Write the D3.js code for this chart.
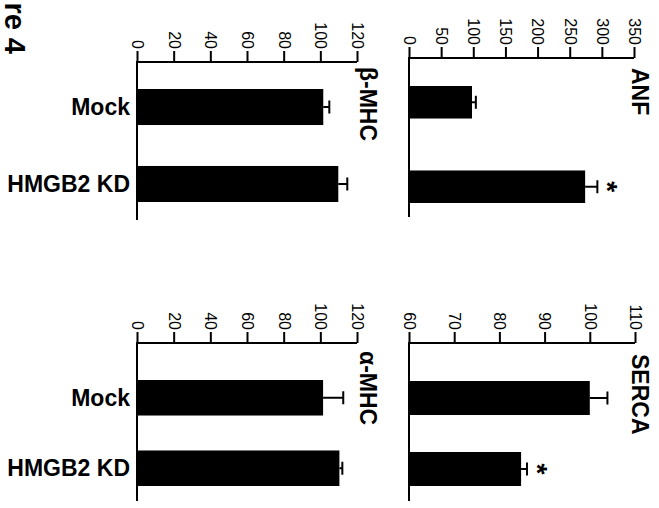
<!DOCTYPE html>
<html><head><meta charset="utf-8">
<script src="https://cdn.jsdelivr.net/npm/d3@7"></script>
<style>
html,body{margin:0;padding:0;background:#fff;}
svg{display:block;}
text{font-family:"Liberation Sans",Arial,sans-serif;fill:#000;}
</style></head>
<body>
<svg id="chart" width="659" height="508"></svg>
<script>
// ---- data ----
const categories = ["Mock", "HMGB2 KD"];
const betaMHC = [101.6, 109.8];
const betaMHCErr = [3.3, 4.9];
const alphaMHC = [101.5, 110.4];
const alphaMHCErr = [11, 1.6];
const anf = [98, 274];
const anfErr = [6, 19];
const serca = [100, 84.8];
const sercaErr = [3.9, 1.3];
const anfSig = [false, true];
const sercaSig = [false, true];
const mhcTicks = [0, 20, 40, 60, 80, 100, 120];
const anfTicks = [0, 50, 100, 150, 200, 250, 300, 350];
const sercaTicks = [60, 70, 80, 90, 100, 110];
const figLabel = "re 4";

const svg = d3.select("#chart");

// figure label (rotated)
svg.append("text")
  .attr("transform", "translate(5,54) rotate(90)")
  .attr("text-anchor", "end")
  .attr("font-size", 29).attr("font-weight", "bold")
  .text(figLabel);

function panel(opt) {
  const x = d3.scaleLinear().domain(opt.domain).range(opt.xRange);
  const y = d3.scaleBand().domain(categories).range(opt.yRange)
    .paddingInner(opt.pad).paddingOuter(0);
  const g = svg.append("g");

  // bars
  g.selectAll("rect.bar").data(categories).enter().append("rect")
    .attr("x", x(opt.domain[0]))
    .attr("y", d => y(d))
    .attr("width", (d, i) => x(opt.values[i]) - x(opt.domain[0]))
    .attr("height", y.bandwidth())
    .attr("fill", "#000");

  // error bars
  categories.forEach((c, i) => {
    const yc = y(c) + y.bandwidth() / 2;
    const x1 = x(opt.values[i]), x2 = x(opt.values[i] + opt.errs[i]);
    g.append("line").attr("x1", x1).attr("x2", x2).attr("y1", yc).attr("y2", yc)
      .attr("stroke", "#000").attr("stroke-width", 2);
    g.append("line").attr("x1", x2).attr("x2", x2).attr("y1", yc - 6.5).attr("y2", yc + 6.5)
      .attr("stroke", "#000").attr("stroke-width", 2);
    if (opt.sig && opt.sig[i]) {
      g.append("text")
        .attr("transform", `translate(${x2 + 1},${yc}) rotate(90)`)
        .attr("text-anchor", "middle")
        .attr("font-size", 28).attr("font-weight", "bold")
        .text("*");
    }
  });

  // value axis (top)
  const ax = g.append("g").attr("transform", `translate(0,${opt.axisY})`)
    .call(d3.axisTop(x).tickValues(opt.ticks).tickSize(11).tickSizeOuter(0).tickPadding(2));
  ax.select(".domain").attr("stroke-width", 2).attr("d", `M${opt.xRange[0]},0H${opt.xRange[1]}`);
  ax.selectAll(".tick line").attr("stroke-width", 2);
  ax.selectAll(".tick text")
    .attr("font-size", 16)
    .attr("font-family", "Liberation Sans, Arial, sans-serif")
    .attr("transform", "rotate(90)")
    .attr("x", -13).attr("y", 0).attr("dy", "0.35em")
    .attr("text-anchor", "end");

  // category baseline (vertical)
  g.append("line")
    .attr("x1", opt.xRange[0]).attr("x2", opt.xRange[0])
    .attr("y1", opt.axisY - 1).attr("y2", opt.baseEnd)
    .attr("stroke", "#000").attr("stroke-width", 2);

  // category labels
  if (opt.showCats) {
    g.selectAll("text.cat").data(categories).enter().append("text")
      .attr("class", "cat")
      .attr("x", opt.xRange[0] - 7)
      .attr("y", d => y(d) + y.bandwidth() / 2)
      .attr("dy", "0.35em")
      .attr("text-anchor", "end")
      .attr("font-size", 23).attr("font-weight", "bold")
      .text(d => d);
  }

  // title (rotated)
  g.append("text")
    .attr("transform", `translate(${opt.titleX},${opt.axisY + opt.titleDy}) rotate(90)`)
    .attr("text-anchor", "start")
    .attr("font-size", 23).attr("font-weight", "bold")
    .text(opt.title);
}

panel({title: "β-MHC", values: betaMHC, errs: betaMHCErr, domain: [0, 120], ticks: mhcTicks,
  xRange: [137, 357], axisY: 62, yRange: [89, 202], pad: 0.532, baseEnd: 220,
  showCats: true, titleX: 360, titleDy: 5});
panel({title: "ANF", values: anf, errs: anfErr, sig: anfSig, domain: [0, 350], ticks: anfTicks,
  xRange: [409, 634], axisY: 58, yRange: [86, 203], pad: 0.615, baseEnd: 217,
  showCats: false, titleX: 632, titleDy: 10});
panel({title: "α-MHC", values: alphaMHC, errs: alphaMHCErr, domain: [0, 120], ticks: mhcTicks,
  xRange: [137, 357], axisY: 343, yRange: [380, 486], pad: 0.496, baseEnd: 501,
  showCats: true, titleX: 360, titleDy: 8});
panel({title: "SERCA", values: serca, errs: sercaErr, sig: sercaSig, domain: [60, 110], ticks: sercaTicks,
  xRange: [409, 635], axisY: 343, yRange: [381, 486], pad: 0.521, baseEnd: 501,
  showCats: false, titleX: 632, titleDy: 11});
</script>
</body></html>
